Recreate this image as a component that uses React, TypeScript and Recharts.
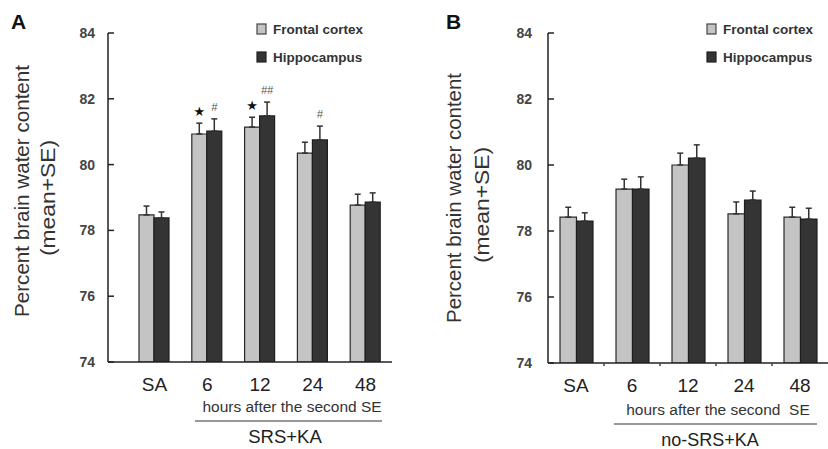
import React from 'react';
import { BarChart, Bar, XAxis, YAxis, ErrorBar, LabelList } from 'recharts';

const categories = ['SA', '6', '12', '24', '48'];
const yTicks = [74, 76, 78, 80, 82, 84];

// Panel A: SRS+KA
const srsFrontal = [78.47, 80.93, 81.14, 80.35, 78.77];
const srsFrontalSE = [0.27, 0.33, 0.3, 0.33, 0.33];
const srsHippo = [78.38, 81.02, 81.48, 80.75, 78.86];
const srsHippoSE = [0.18, 0.37, 0.42, 0.42, 0.28];
const srsFrontalMarks = ['', '★', '★', '', ''];
const srsHippoMarks = ['', '#', '##', '#', ''];

// Panel B: no-SRS+KA
const noFrontal = [78.42, 79.27, 80.0, 78.52, 78.42];
const noFrontalSE = [0.3, 0.3, 0.36, 0.36, 0.3];
const noHippo = [78.3, 79.27, 80.21, 78.94, 78.36];
const noHippoSE = [0.25, 0.37, 0.4, 0.27, 0.33];
const noFrontalMarks = ['', '', '', '', ''];
const noHippoMarks = ['', '', '', '', ''];

const buildRows = (
  fc: number[], fcSE: number[], hc: number[], hcSE: number[], fcM: string[], hcM: string[]
) =>
  categories.map((cat, i) => ({
    cat,
    fc: fc[i],
    fcErr: [0, fcSE[i]],
    hc: hc[i],
    hcErr: [0, hcSE[i]],
    fcMark: fcM[i],
    hcMark: hcM[i],
  }));

const srsRows = buildRows(srsFrontal, srsFrontalSE, srsHippo, srsHippoSE, srsFrontalMarks, srsHippoMarks);
const noRows = buildRows(noFrontal, noFrontalSE, noHippo, noHippoSE, noFrontalMarks, noHippoMarks);

const FONT = 'Liberation Sans, Arial, Helvetica, sans-serif';
const AXIS = '#222';
const LIGHT = '#c4c4c4';
const DARK = '#343434';
const X_AXIS_H = 30;

const makeYTick = (gap: number) => (props: any) => {
  const { x, y, payload } = props;
  return (
    <g>
      <line x1={x + gap} x2={x + gap + 6} y1={y} y2={y} stroke={AXIS} strokeWidth={1.5} />
      <text x={x} y={y} dy={5} textAnchor="end" fontSize={14} fontWeight="bold" fill="#444" fontFamily={FONT}>
        {payload.value}
      </text>
    </g>
  );
};

const makeXTick = (margin: number, boundaryOffset: number) => (props: any) => {
  const { x, y, payload, index } = props;
  const axisY = y - margin;
  return (
    <g>
      {boundaryOffset > 0 && index > 0 ? (
        <line x1={x - boundaryOffset} x2={x - boundaryOffset} y1={axisY} y2={axisY + 3} stroke="#444" strokeWidth={1.5} />
      ) : null}
      <text x={x} y={y} dy="0.72em" textAnchor="middle" fontSize={19} fill="#222" fontFamily={FONT}>
        {payload.value}
      </text>
    </g>
  );
};

const makeMark = (se: number[], pxPerUnit: number) => (props: any) => {
  const { x, y, width, index, value } = props;
  if (!value) return null;
  const cx = Number(x) + Number(width) / 2;
  const top = Number(y) - se[index] * pxPerUnit - 12;
  const isStar = value === '★';
  return (
    <text
      x={cx}
      y={top}
      dy="0.35em"
      textAnchor="middle"
      fontSize={isStar ? 13 : 11}
      fontStyle={isStar ? 'normal' : 'italic'}
      fill={isStar ? '#111' : '#555'}
      fontFamily={isStar ? 'DejaVu Sans, sans-serif' : FONT}
    >
      {value}
    </text>
  );
};

type PanelProps = {
  rows: any[];
  fcSE: number[];
  hcSE: number[];
  left: number;
  yAxisWidth: number;
  marginRight: number;
  marginBottom: number;
  padLeft: number;
  barSize: number;
  tickGap: number;
  boundaryOffset: number;
};

const Panel = (p: PanelProps) => {
  const height = 449;
  const top = 33;
  const plotH = height - top - p.marginBottom - X_AXIS_H;
  const pxPerUnit = plotH / (yTicks[yTicks.length - 1] - yTicks[0]);
  return (
    <div style={{ position: 'absolute', left: p.left, top: 0 }}>
      <BarChart
        width={414}
        height={height}
        data={p.rows}
        margin={{ top, right: p.marginRight, bottom: p.marginBottom, left: 0 }}
        barGap={0}
        barSize={p.barSize}
      >
        <XAxis
          dataKey="cat"
          height={X_AXIS_H}
          tickLine={false}
          tickSize={0}
          tickMargin={15}
          axisLine={{ stroke: AXIS, strokeWidth: 1.5 }}
          padding={{ left: p.padLeft, right: 0 }}
          interval={0}
          tick={makeXTick(15, p.boundaryOffset)}
        />
        <YAxis
          domain={[yTicks[0], yTicks[yTicks.length - 1]]}
          ticks={yTicks}
          interval={0}
          width={p.yAxisWidth}
          tickLine={false}
          tickSize={0}
          tickMargin={p.tickGap}
          axisLine={{ stroke: AXIS, strokeWidth: 1.5 }}
          tick={makeYTick(p.tickGap)}
          allowDataOverflow
        />
        <Bar dataKey="fc" fill={LIGHT} stroke="#2a2a2a" strokeWidth={1.2} isAnimationActive={false}>
          <ErrorBar dataKey="fcErr" width={3} stroke="#333" strokeWidth={1.5} direction="y" />
          <LabelList dataKey="fcMark" content={makeMark(p.fcSE, pxPerUnit)} />
        </Bar>
        <Bar dataKey="hc" fill={DARK} stroke="#1e1e1e" strokeWidth={1.2} isAnimationActive={false}>
          <ErrorBar dataKey="hcErr" width={3} stroke="#333" strokeWidth={1.5} direction="y" />
          <LabelList dataKey="hcMark" content={makeMark(p.hcSE, pxPerUnit)} />
        </Bar>
      </BarChart>
    </div>
  );
};

const LegendBox = ({ x }: { x: number }) => (
  <g fontFamily={FONT} fontWeight="bold" fontSize={13.5} fill="#333">
    <rect x={x} y={24} width={9} height={10} fill={LIGHT} stroke="#444" strokeWidth={1.2} />
    <text x={x + 16} y={29} dy="0.35em">Frontal cortex</text>
    <rect x={x} y={52} width={9} height={10} fill={DARK} stroke="#222" strokeWidth={1.2} />
    <text x={x + 16} y={57} dy="0.35em">Hippocampus</text>
  </g>
);

const Overlay = () => (
  <svg width={828} height={449} style={{ position: 'absolute', left: 0, top: 0, pointerEvents: 'none' }}>
    {/* Panel A */}
    <text x={11} y={29} fontSize={21} fontWeight="bold" fontFamily={FONT} fill="#111">A</text>
    <text transform="translate(22,191) rotate(-90)" textAnchor="middle" dy="0.35em" fontSize={20} fontFamily={FONT} fill="#333" textLength={252} lengthAdjust="spacingAndGlyphs">
      Percent brain water content
    </text>
    <text transform="translate(48,198) rotate(-90)" textAnchor="middle" dy="0.35em" fontSize={20} fontFamily={FONT} fill="#333" textLength={116} lengthAdjust="spacingAndGlyphs">
      (mean+SE)
    </text>
    <LegendBox x={257} />
    <text x={292} y={407} dy="0.35em" textAnchor="middle" fontSize={15.5} fontFamily={FONT} fill="#333">hours after the second SE</text>
    <line x1={195} x2={382} y1={421} y2={421} stroke="#333" strokeWidth={1.2} />
    <text x={285} y={437} dy="0.35em" textAnchor="middle" fontSize={18.5} fontFamily={FONT} fill="#222">SRS+KA</text>

    {/* Panel B */}
    <text x={446} y={29} fontSize={21} fontWeight="bold" fontFamily={FONT} fill="#111">B</text>
    <text transform="translate(454,198) rotate(-90)" textAnchor="middle" dy="0.35em" fontSize={20} fontFamily={FONT} fill="#333" textLength={250} lengthAdjust="spacingAndGlyphs">
      Percent brain water content
    </text>
    <text transform="translate(482,205) rotate(-90)" textAnchor="middle" dy="0.35em" fontSize={20} fontFamily={FONT} fill="#333" textLength={116} lengthAdjust="spacingAndGlyphs">
      (mean+SE)
    </text>
    <LegendBox x={707} />
    <text x={718} y={410} dy="0.35em" textAnchor="middle" fontSize={15.5} fontFamily={FONT} fill="#333" style={{ whiteSpace: 'pre' }}>hours after the second  SE</text>
    <line x1={614} x2={817} y1={424} y2={424} stroke="#333" strokeWidth={1.2} />
    <text x={710} y={440} dy="0.35em" textAnchor="middle" fontSize={18} fontFamily={FONT} fill="#222">no-SRS+KA</text>
  </svg>
);

export default function App() {
  return (
    <div style={{ position: 'absolute', left: 0, top: 0, width: 828, height: 449, background: '#fff', overflow: 'hidden' }}>
      <Panel
        rows={srsRows}
        fcSE={srsFrontalSE}
        hcSE={srsHippoSE}
        left={0}
        yAxisWidth={108}
        marginRight={22}
        marginBottom={87 - X_AXIS_H}
        padLeft={20}
        barSize={15}
        tickGap={13}
        boundaryOffset={0}
      />
      <Panel
        rows={noRows}
        fcSE={noFrontalSE}
        hcSE={noHippoSE}
        left={414}
        yAxisWidth={134}
        marginRight={0}
        marginBottom={86 - X_AXIS_H}
        padLeft={0}
        barSize={16.5}
        tickGap={16}
        boundaryOffset={28}
      />
      <Overlay />
    </div>
  );
}
